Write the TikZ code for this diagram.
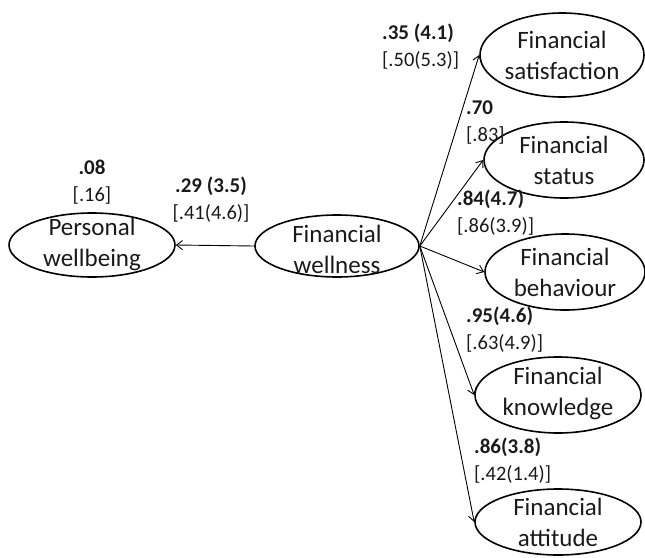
\documentclass[tikz,border=0pt]{standalone}
\usepackage{fontspec}
\setmainfont{Carlito}
\usetikzlibrary{shapes.geometric,arrows.meta}
\definecolor{txt}{HTML}{1A1A1A}
\newcommand\estb[1]{{\fontsize{21}{27}\selectfont\bfseries #1}}
\newcommand\estn[1]{{\fontsize{20.5}{27}\selectfont #1}}
\tikzset{
  latent/.style={ellipse,draw=black,line width=1.6pt,inner sep=0pt},
  nodetext/.style={inner sep=0pt,align=center,text=txt,font=\fontsize{25}{31}\selectfont},
  est/.style={inner sep=0pt,align=left,text=txt,font=\fontsize{20.5}{27}\selectfont},
  path/.style={draw=black,line width=0.9pt,-{Straight Barb[length=6pt,width=9pt]}}
}
\begin{document}
\begin{tikzpicture}[x=1pt,y=-1pt]
\useasboundingbox (0,0) rectangle (645,557);
% ellipses
\node[latent,minimum width=166pt,minimum height=64pt] (pw) at (92,245) {};
\node[latent,minimum width=164pt,minimum height=62pt] (fw) at (337,246) {};
\node[latent,minimum width=164pt,minimum height=84pt] (fs) at (562,55) {};
\node[latent,minimum width=160pt,minimum height=76pt] (fst) at (564,160) {};
\node[latent,minimum width=160pt,minimum height=76pt] (fb) at (565,272) {};
\node[latent,minimum width=166pt,minimum height=76pt] (fk) at (558,395) {};
\node[latent,minimum width=166pt,minimum height=66pt] (fa) at (558,522) {};
% texts
\node[nodetext] (tpw) at (92,244) {Personal\\wellbeing};
\node[nodetext] (tfw) at (337,249) {Financial\\wellness};
\node[nodetext] (tfs) at (562,55) {Financial\\satisfaction};
\node[nodetext] (tfst) at (564,160) {Financial\\status};
\node[nodetext] (tfb) at (565,272) {Financial\\behaviour};
\node[nodetext] (tfk) at (558,393) {Financial\\knowledge};
\node[nodetext] (tfa) at (558,522) {Financial\\attitude};
% paths
\draw[path] (fw.west) -- (pw.east);
\draw[path] (fw.east) -- (fs.west);
\draw[path] (fw.east) -- (fst.west);
\draw[path] (fw.east) -- (fb.west);
\draw[path] (fw.east) -- (fk.west);
\draw[path] (fw.east) -- (fa.west);
% estimates
\node[est,align=center] (l08) at (92,182) {\estb{.08}\\\estn{[.16]}};
\node[est,align=center] (l29) at (211,200) {\estb{.29 (3.5)}\\\estn{[.41(4.6)]}};
\node[est,anchor=west] (l35) at (382,47) {\estb{.35 (4.1)}\\\estn{[.50(5.3)]}};
\node[est,anchor=west] (l70) at (466,123) {\estb{.70}\\\estn{[.83]}};
\node[est,anchor=west] (l84) at (457,213) {\estb{.84(4.7)}\\\estn{[.86(3.9)]}};
\node[est,anchor=west] (l95) at (466,330) {\estb{.95(4.6)}\\\estn{[.63(4.9)]}};
\node[est,anchor=west] (l86) at (474,461) {\estb{.86(3.8)}\\\estn{[.42(1.4)]}};
\end{tikzpicture}
\end{document}
